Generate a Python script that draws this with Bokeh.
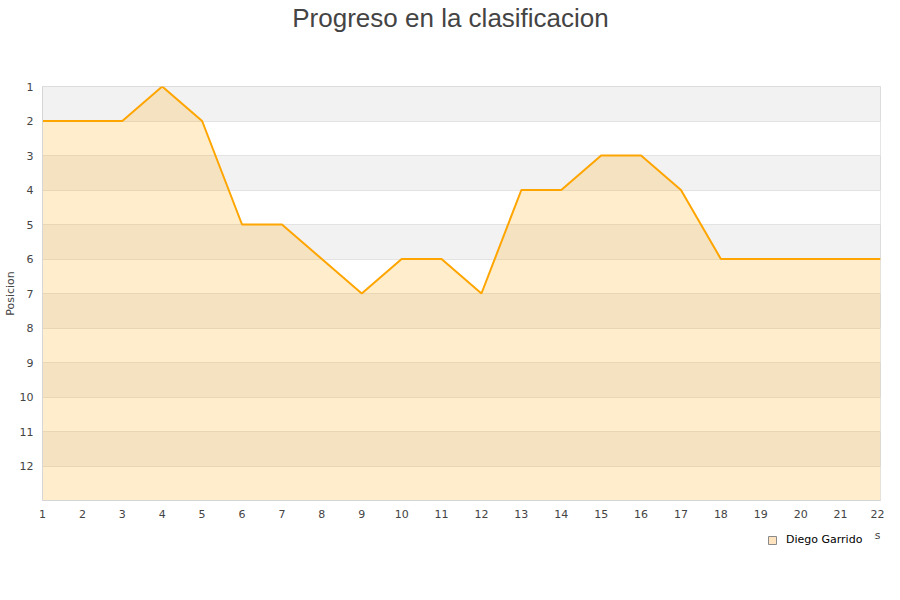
from bokeh.plotting import figure
from bokeh.layouts import column
from bokeh.models import (Range1d, FixedTicker, Legend, LegendItem, Label,
                          ColumnDataSource)
from bokeh.embed import file_html
from bokeh.resources import INLINE

# ---- data ----
jornadas = list(range(1, 23))
posiciones = [2, 2, 2, 1, 2, 5, 5, 6, 7, 6, 6, 7, 4, 4, 3, 3, 4, 6, 6, 6, 6, 6]
y_ticks = list(range(1, 13))
x_ticks = list(range(1, 23))
title_text = "Progreso en la clasificacion"
serie = "Diego Garrido"
y_label = "Posicion"
x_label = "Jornadas"
fondo = 13

src = ColumnDataSource(dict(x=jornadas, y=posiciones, base=[fondo] * len(jornadas)))


def strip(h, y0, y1):
    f = figure(width=884, height=h, output_backend="svg", toolbar_location=None,
               x_range=Range1d(40, 880), y_range=Range1d(y1, y0),
               x_axis_type=None, y_axis_type=None,
               min_border_left=0, min_border_right=0, min_border_top=0,
               min_border_bottom=0)
    f.outline_line_color = None
    f.xgrid.visible = False
    f.ygrid.visible = False
    f.background_fill_color = "white"
    f.border_fill_color = "white"
    return f


# ---- title strip ----
t = strip(78, 0, 78)
t.add_layout(Label(x=449, y=17, text=title_text, text_align="center",
                   text_baseline="alphabetic", text_font="Liberation Sans",
                   text_font_size="26px", text_color="#444444"))

# ---- main chart ----
p = figure(width=884, height=444, output_backend="svg", toolbar_location=None,
           x_range=Range1d(1, 22), y_range=Range1d(fondo, 1),
           min_border_left=40, min_border_right=4, min_border_top=8,
           min_border_bottom=22)
p.outline_line_color = "#dcdcdc"
p.background_fill_color = "#f2f2f2"
p.border_fill_color = "white"

p.xaxis.ticker = FixedTicker(ticks=x_ticks)
p.yaxis.ticker = FixedTicker(ticks=y_ticks)
for ax in (p.xaxis[0], p.yaxis[0]):
    ax.major_tick_out = 0
    ax.major_tick_in = 0
    ax.minor_tick_out = 0
    ax.minor_tick_in = 0
    ax.axis_line_color = "#d6d6d6"
    ax.major_label_text_font = "DejaVu Sans"
    ax.major_label_text_font_size = "11px"
    ax.major_label_text_color = "#444444"
p.xaxis.major_label_standoff = 9
p.yaxis.major_label_standoff = 9
p.yaxis.axis_label = y_label
p.yaxis.axis_label_standoff = 0
p.yaxis.axis_label_text_font = "DejaVu Sans"
p.yaxis.axis_label_text_font_size = "11px"
p.yaxis.axis_label_text_font_style = "normal"
p.yaxis.axis_label_text_color = "#444444"

p.xgrid.visible = False
p.ygrid.ticker = FixedTicker(ticks=list(range(1, 14)))
p.ygrid.grid_line_color = "#e3e3e3"
p.ygrid.grid_line_width = 1
p.ygrid.band_fill_color = "white"
p.ygrid.band_fill_alpha = 1.0

p.varea(x="x", y1="y", y2="base", source=src, fill_color="#FFA500", fill_alpha=0.2)
p.line(x="x", y="y", source=src, line_color="#FFA500", line_width=2)

# ---- bottom strip: x axis title (partly covered) + legend ----
q = strip(62, 522, 584)
# swatch renderer for the legend: one series point, off-screen in this strip
sw = q.rect(x=jornadas[:1], y=posiciones[:1], width=1, height=1,
            fill_color="#FFE4BF", line_color="#8a8a8a", line_width=1)
q.add_layout(Label(x=880, y=535, text=x_label, text_align="right",
                   text_baseline="alphabetic", text_font="DejaVu Sans",
                   text_font_size="11px", text_color="#444444"))
legend = Legend(items=[LegendItem(label=serie, renderers=[sw])],
                location=(719, 32), orientation="vertical",
                glyph_width=10, glyph_height=10, label_standoff=9,
                label_width=82, padding=6, margin=0, spacing=0,
                label_text_font="DejaVu Sans", label_text_font_size="11px",
                label_text_color="#000000", label_height=12,
                border_line_alpha=0, background_fill_color="white",
                background_fill_alpha=1.0)
q.add_layout(legend, "center")

layout = column(t, p, q, spacing=0)
open("out.html", "w").write(file_html(layout, INLINE))
